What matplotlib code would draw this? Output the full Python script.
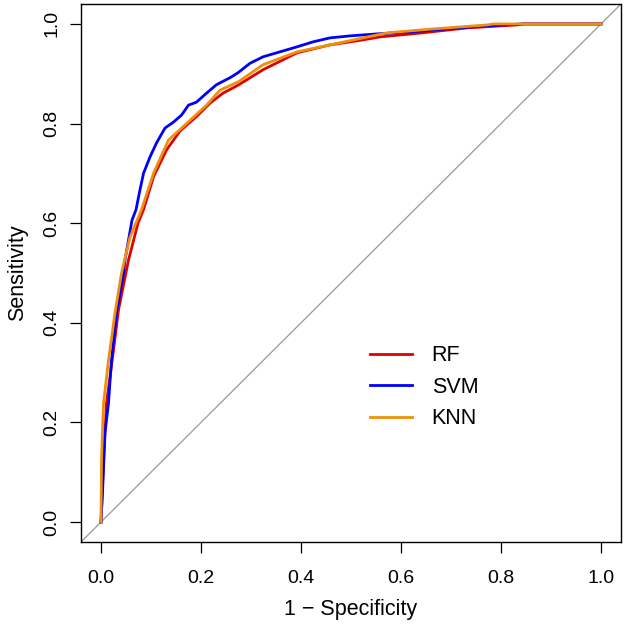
import numpy as np
import matplotlib
matplotlib.use("Agg")
from matplotlib import pyplot as plt

plt.rcParams['font.family'] = ['Liberation Sans', 'DejaVu Sans']

# ROC points (1 - specificity, sensitivity)
rf_fpr = [0, 0.002, 0.005, 0.011, 0.018, 0.025, 0.035, 0.045, 0.055, 0.074, 0.085, 0.105,
          0.131, 0.158, 0.191, 0.218, 0.244, 0.274, 0.324, 0.392, 0.458, 0.524, 0.558, 0.632,
          0.732, 0.832, 0.845, 1.0]
rf_tpr = [0, 0.05, 0.124, 0.239, 0.291, 0.345, 0.426, 0.476, 0.526, 0.600, 0.627, 0.693,
          0.747, 0.785, 0.814, 0.841, 0.861, 0.877, 0.908, 0.942, 0.958, 0.968, 0.974, 0.981,
          0.992, 0.998, 1.0, 1.0]

svm_fpr = [0, 0.003, 0.008, 0.015, 0.021, 0.031, 0.045, 0.048, 0.062, 0.070, 0.078, 0.085,
           0.098, 0.111, 0.128, 0.145, 0.161, 0.175, 0.191, 0.211, 0.231, 0.258, 0.274, 0.298,
           0.324, 0.358, 0.392, 0.424, 0.458, 0.498, 0.552, 0.618, 0.664, 0.764, 0.844, 1.0]
svm_tpr = [0, 0.058, 0.179, 0.239, 0.325, 0.420, 0.500, 0.526, 0.606, 0.627, 0.667, 0.700,
           0.733, 0.761, 0.791, 0.803, 0.817, 0.837, 0.843, 0.861, 0.878, 0.892, 0.902, 0.921,
           0.934, 0.944, 0.954, 0.964, 0.972, 0.976, 0.980, 0.984, 0.988, 0.996, 1.0, 1.0]

knn_fpr = [0, 0.001, 0.005, 0.015, 0.028, 0.041, 0.058, 0.081, 0.105, 0.135, 0.171, 0.211,
           0.238, 0.275, 0.324, 0.392, 0.458, 0.524, 0.572, 0.664, 0.772, 0.785, 1.0]
knn_tpr = [0, 0.124, 0.238, 0.325, 0.420, 0.500, 0.572, 0.627, 0.700, 0.767, 0.800, 0.837,
           0.867, 0.884, 0.918, 0.944, 0.958, 0.972, 0.982, 0.990, 0.998, 1.0, 1.0]

models = ['RF', 'SVM', 'KNN']
colors = ['#e00000', '#0000ff', '#f0900a']
ticks = [0.0, 0.2, 0.4, 0.6, 0.8, 1.0]

fig = plt.figure(figsize=(6.24, 6.26), dpi=100)
ax = fig.add_axes([0.1298, 0.1342, 0.8654, 0.8594])

ax.axline((0, 0), (1, 1), color='#999999', lw=0.9, zorder=1)
for name, c, fpr, tpr in zip(models, colors, [rf_fpr, svm_fpr, knn_fpr], [rf_tpr, svm_tpr, knn_tpr]):
    ax.plot(fpr, tpr, color=c, lw=2.0, label=name, zorder=2)

ax.set_xlim(-0.04, 1.04)
ax.set_ylim(-0.04, 1.04)
ax.set_xticks(ticks)
ax.set_yticks(ticks)
ax.set_xticklabels(['%.1f' % t for t in ticks])
ax.set_yticklabels(['%.1f' % t for t in ticks], rotation=90, va='center')
ax.tick_params(direction='out', length=8, width=0.9, labelsize=14)
ax.tick_params(axis='x', pad=12)
ax.tick_params(axis='y', pad=7)
for s in ax.spines.values():
    s.set_linewidth(1.0)

ax.set_xlabel('1 \u2212 Specificity', fontsize=15.5, labelpad=9)
ax.set_ylabel('Sensitivity', fontsize=15.5, labelpad=11)

ax.legend(loc='upper left', bbox_to_anchor=(0.4985, 0.402), frameon=False, fontsize=15.5,
          handlelength=1.95, handletextpad=0.93, labelspacing=0.49)

fig.savefig('out.png', dpi=100)
